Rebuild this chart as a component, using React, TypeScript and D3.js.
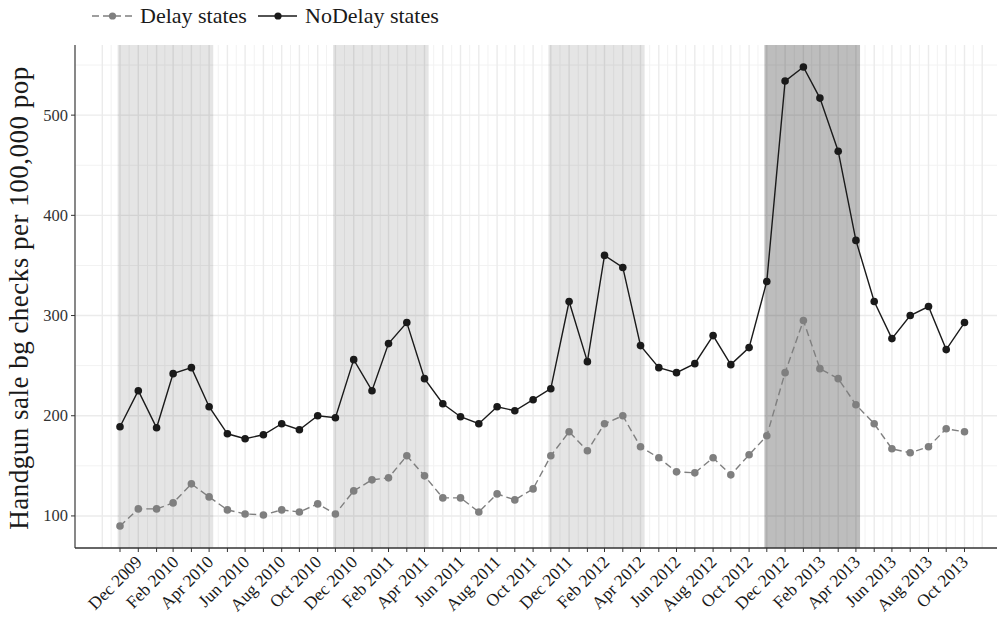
import { useEffect, useRef } from 'react'
import * as d3 from 'd3'

const MONTHS = [
  '2009-12',
  '2010-01', '2010-02', '2010-03', '2010-04', '2010-05', '2010-06', '2010-07', '2010-08', '2010-09', '2010-10', '2010-11', '2010-12',
  '2011-01', '2011-02', '2011-03', '2011-04', '2011-05', '2011-06', '2011-07', '2011-08', '2011-09', '2011-10', '2011-11', '2011-12',
  '2012-01', '2012-02', '2012-03', '2012-04', '2012-05', '2012-06', '2012-07', '2012-08', '2012-09', '2012-10', '2012-11', '2012-12',
  '2013-01', '2013-02', '2013-03', '2013-04', '2013-05', '2013-06', '2013-07', '2013-08', '2013-09', '2013-10', '2013-11',
]

const NODELAY = [
  189,
  225, 188, 242, 248, 209, 182, 177, 181, 192, 186, 200, 198,
  256, 225, 272, 293, 237, 212, 199, 192, 209, 205, 216, 227,
  314, 254, 360, 348, 270, 248, 243, 252, 280, 251, 268, 334,
  534, 548, 517, 464, 375, 314, 277, 300, 309, 266, 293,
]

const DELAY = [
  90,
  107, 107, 113, 132, 119, 106, 102, 101, 106, 104, 112, 102,
  125, 136, 138, 160, 140, 118, 118, 104, 122, 116, 127, 160,
  184, 165, 192, 200, 169, 158, 144, 143, 158, 141, 161, 180,
  243, 295, 247, 237, 211, 192, 167, 163, 169, 187, 184,
]

const TICK_LABELS = [
  'Dec 2009', 'Feb 2010', 'Apr 2010', 'Jun 2010', 'Aug 2010', 'Oct 2010',
  'Dec 2010', 'Feb 2011', 'Apr 2011', 'Jun 2011', 'Aug 2011', 'Oct 2011',
  'Dec 2011', 'Feb 2012', 'Apr 2012', 'Jun 2012', 'Aug 2012', 'Oct 2012',
  'Dec 2012', 'Feb 2013', 'Apr 2013', 'Jun 2013', 'Aug 2013', 'Oct 2013',
]

const Y_TICKS = [100, 200, 300, 400, 500]

// shaded periods: start, end, darker?
const SHADE_START = ['2009-11-27', '2010-11-27', '2011-11-27', '2012-11-27']
const SHADE_END = ['2010-05-08', '2011-05-08', '2012-05-08', '2013-05-08']
const SHADE_DARK = [false, false, false, true]

const FONT = '"Liberation Serif", "Times New Roman", serif'

export default function App() {
  const svgRef = useRef<SVGSVGElement>(null)

  useEffect(() => {
    if (!svgRef.current) return
    const svg = d3.select(svgRef.current)
    svg.selectAll('*').remove()

    const W = 997
    const H = 621
    const left = 75, right = 997, top = 45, bottom = 548

    const parseMonth = d3.utcParse('%Y-%m')
    const parseDay = d3.utcParse('%Y-%m-%d')
    const dates = MONTHS.map(m => parseMonth(m) as Date)

    const x = d3.scaleUtc()
      .domain([dates[0], dates[dates.length - 1]])
      .range([120, 964.5])
    const y = d3.scaleLinear().domain([68, 570]).range([bottom, top])

    svg.attr('width', W).attr('height', H)

    // grid
    const g = svg.append('g')
    const gridEnd = new Date(Date.UTC(2013, 11, 2))
    const majorX = d3.utcMonth.range(new Date(Date.UTC(2009, 10, 1)), gridEnd)
    const minorX = majorX.slice(0, -1).map((d, i) => new Date((+d + +majorX[i + 1]) / 2))

    g.selectAll('.minx').data(minorX).join('line')
      .attr('x1', d => x(d)).attr('x2', d => x(d))
      .attr('y1', top).attr('y2', bottom)
      .attr('stroke', '#f2f2f2').attr('stroke-width', 1)
    g.selectAll('.miny').data([150, 250, 350, 450, 550]).join('line')
      .attr('x1', left).attr('x2', right)
      .attr('y1', d => y(d)).attr('y2', d => y(d))
      .attr('stroke', '#f2f2f2').attr('stroke-width', 1)
    g.selectAll('.majx').data(majorX).join('line')
      .attr('x1', d => x(d)).attr('x2', d => x(d))
      .attr('y1', top).attr('y2', bottom)
      .attr('stroke', '#ebebeb').attr('stroke-width', 1.4)
    g.selectAll('.majy').data(Y_TICKS).join('line')
      .attr('x1', left).attr('x2', right)
      .attr('y1', d => y(d)).attr('y2', d => y(d))
      .attr('stroke', '#ebebeb').attr('stroke-width', 1.4)

    // shaded periods
    svg.append('g').selectAll('rect').data(SHADE_START).join('rect')
      .attr('x', d => x(parseDay(d) as Date))
      .attr('width', (d, i) => x(parseDay(SHADE_END[i]) as Date) - x(parseDay(d) as Date))
      .attr('y', top)
      .attr('height', bottom - top)
      .attr('fill', '#000')
      .attr('fill-opacity', (d, i) => (SHADE_DARK[i] ? 0.26 : 0.1))

    // axes lines
    svg.append('line')
      .attr('x1', left).attr('x2', left).attr('y1', top).attr('y2', bottom)
      .attr('stroke', '#555').attr('stroke-width', 1.4)
    svg.append('line')
      .attr('x1', left).attr('x2', right).attr('y1', bottom).attr('y2', bottom)
      .attr('stroke', '#333').attr('stroke-width', 1.4)

    // y ticks
    const yt = svg.append('g')
    yt.selectAll('line').data(Y_TICKS).join('line')
      .attr('x1', left - 4).attr('x2', left)
      .attr('y1', d => y(d)).attr('y2', d => y(d))
      .attr('stroke', '#333')
    yt.selectAll('text').data(Y_TICKS).join('text')
      .attr('x', left - 7).attr('y', d => y(d))
      .attr('text-anchor', 'end').attr('dominant-baseline', 'central')
      .attr('font-family', FONT).attr('font-size', 16.5).attr('fill', '#333')
      .text(d => d)

    // x ticks
    const xt = svg.append('g')
    xt.selectAll('line').data(dates).join('line')
      .attr('x1', d => x(d)).attr('x2', d => x(d))
      .attr('y1', bottom).attr('y2', bottom + 4)
      .attr('stroke', '#333')
    xt.selectAll('text').data(TICK_LABELS).join('text')
      .attr('transform', (d, i) => `translate(${x(dates[i * 2]) + 23},${bottom + 15}) rotate(-45)`)
      .attr('text-anchor', 'end')
      .attr('font-family', FONT).attr('font-size', 17.5).attr('fill', '#1a1a1a')
      .text(d => d)

    // y title
    svg.append('text')
      .attr('transform', `translate(28,298) rotate(-90)`)
      .attr('text-anchor', 'middle')
      .attr('font-family', FONT).attr('font-size', 27).attr('letter-spacing', 0.5)
      .attr('fill', '#1a1a1a')
      .text('Handgun sale bg checks per 100,000 pop')

    // series
    const line = d3.line<number>()
      .x((d, i) => x(dates[i]))
      .y(d => y(d))

    svg.append('path').datum(DELAY)
      .attr('d', line)
      .attr('fill', 'none').attr('stroke', '#7f7f7f').attr('stroke-width', 1.4)
      .attr('stroke-dasharray', '7,4')
    svg.append('g').selectAll('circle').data(DELAY).join('circle')
      .attr('cx', (d, i) => x(dates[i])).attr('cy', d => y(d))
      .attr('r', 3.8).attr('fill', '#7f7f7f')

    svg.append('path').datum(NODELAY)
      .attr('d', line)
      .attr('fill', 'none').attr('stroke', '#1a1a1a').attr('stroke-width', 1.4)
    svg.append('g').selectAll('circle').data(NODELAY).join('circle')
      .attr('cx', (d, i) => x(dates[i])).attr('cy', d => y(d))
      .attr('r', 3.8).attr('fill', '#1a1a1a')

    // legend
    const lg = svg.append('g')
    lg.append('line').attr('x1', 92).attr('x2', 133).attr('y1', 16).attr('y2', 16)
      .attr('stroke', '#7f7f7f').attr('stroke-width', 1.4).attr('stroke-dasharray', '7,4')
    lg.append('circle').attr('cx', 112.5).attr('cy', 16).attr('r', 3.6).attr('fill', '#7f7f7f')
    lg.append('text').attr('x', 140).attr('y', 23)
      .attr('font-family', FONT).attr('font-size', 22).attr('fill', '#1a1a1a')
      .text('Delay states')
    lg.append('line').attr('x1', 258).attr('x2', 297).attr('y1', 16).attr('y2', 16)
      .attr('stroke', '#1a1a1a').attr('stroke-width', 1.4)
    lg.append('circle').attr('cx', 278).attr('cy', 16).attr('r', 3.6).attr('fill', '#1a1a1a')
    lg.append('text').attr('x', 305).attr('y', 23)
      .attr('font-family', FONT).attr('font-size', 22).attr('fill', '#1a1a1a')
      .text('NoDelay states')
  }, [])

  return (
    <svg
      ref={svgRef}
      style={{ position: 'absolute', left: 0, top: 0, display: 'block', background: '#fff' }}
    />
  )
}
